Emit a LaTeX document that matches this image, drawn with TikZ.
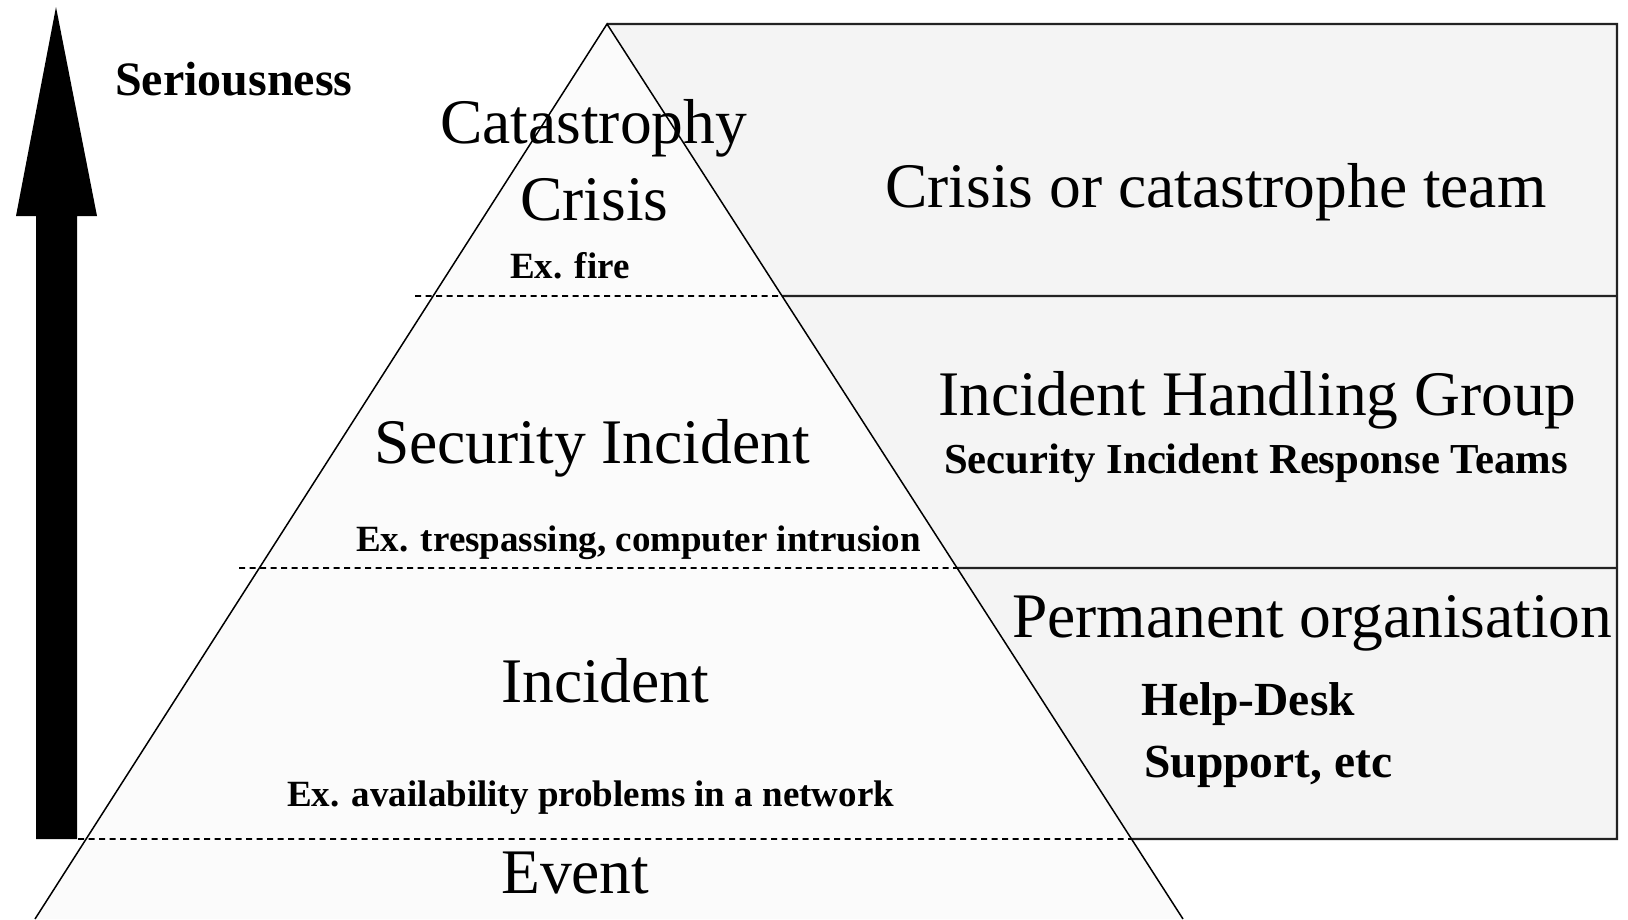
\documentclass[tikz,border=0pt]{standalone}
\usepackage{fontspec}
\setmainfont{Liberation Serif}
\usetikzlibrary{calc}
\definecolor{trifill}{HTML}{FBFBFB}
\definecolor{boxfill}{HTML}{F4F4F4}
\definecolor{boxline}{HTML}{222222}
\tikzset{
  big/.style={anchor=base west,inner sep=0pt,font=\fontsize{63.5}{63.5}\selectfont},
  small/.style={anchor=base west,inner sep=0pt,font=\fontsize{37}{37}\selectfont\bfseries},
  mid/.style={anchor=base west,inner sep=0pt,font=\fontsize{47.5}{47.5}\selectfont\bfseries},
  levelline/.style={draw=black,line width=1.8pt,dash pattern=on 6pt off 4.5pt},
  boxedge/.style={draw=boxline,line width=2.2pt},
  triedge/.style={draw=black,line width=1.5pt}
}
\begin{document}
\begin{tikzpicture}[x=1pt,y=-1pt]
\useasboundingbox (0,0) rectangle (1628,919);
\fill[white] (0,0) rectangle (1628,919);
% key points
\coordinate (apex) at (607,24);
\coordinate (bl) at (35,919);
\coordinate (br) at (1183,919);
\coordinate (tr) at (1617,24);
\coordinate (r1) at ($(apex)!0.3039!(br)$);
\coordinate (r2) at ($(apex)!0.6078!(br)$);
\coordinate (r3) at ($(apex)!0.9106!(br)$);
\coordinate (e1) at (1617,296);
\coordinate (e2) at (1617,568);
\coordinate (e3) at (1617,839);
\coordinate (d1) at (415,296);
\coordinate (d2) at (239,568);
\coordinate (d3) at (78,839);
% right boxes
\fill[boxfill] (apex) -- (tr) -- (e3) -- (r3) -- cycle;
% pyramid
\fill[trifill] (apex) -- (bl) -- (br) -- cycle;
\draw[levelline] (d1) -- (r1);
\draw[levelline] (d2) -- (r2);
\draw[levelline] (d3) -- (r3);
\draw[boxedge] (apex) -- (tr) -- (e3) -- (r3);
\draw[boxedge] (r1) -- (e1);
\draw[boxedge] (r2) -- (e2);
\draw[triedge,line join=miter] (bl) -- (apex) -- (br);
% arrow
\fill[black] (36,839) -- (77,839) -- (77,216) -- (97,216) -- (56,7) -- (16,216) -- (36,216) -- cycle;
% texts
\node[anchor=base west,inner sep=0pt,font=\fontsize{48}{48}\selectfont\bfseries] (ser) at (115,95) {Seriousness};
\node[big] (cat) at (440,143) {Catastrophy};
\node[big] (cri) at (520,220) {Crisis};
\node[small] (fire) at (510,278) {Ex. fire};
\node[big] (team) at (885,207) {Crisis or catastrophe team};
\node[big] (secinc) at (374,463) {Security Incident};
\node[big] (ihg) at (938,415) {Incident Handling Group};
\node[anchor=base west,inner sep=0pt,font=\fontsize{42.7}{42.7}\selectfont\bfseries] (sirt) at (944,473) {Security Incident Response Teams};
\node[small] (tres) at (356,551) {Ex. trespassing, computer intrusion};
\node[big] (perm) at (1012,637) {Permanent organisation};
\node[big] (inc) at (501,702) {Incident};
\node[mid] (help) at (1141,715) {Help-Desk};
\node[mid] (supp) at (1144,777) {Support, etc};
\node[small] (avail) at (287,806) {Ex. availability problems in a network};
\node[big] (event) at (501,893) {Event};
\end{tikzpicture}
\end{document}
